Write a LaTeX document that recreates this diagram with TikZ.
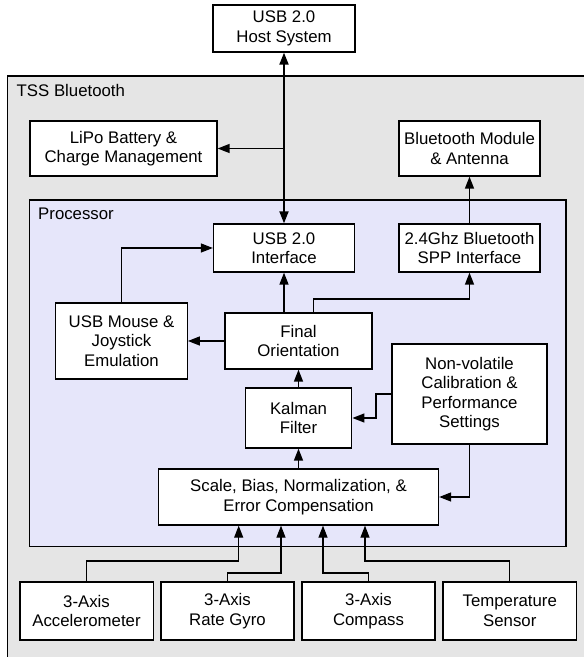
\documentclass[tikz,border=0pt]{standalone}
\usepackage{fontspec}
\setmainfont{Liberation Sans}
\usetikzlibrary{arrows.meta,calc}
\definecolor{outerfill}{RGB}{229,229,229}
\definecolor{procfill}{RGB}{230,230,250}
\begin{document}
\begin{tikzpicture}[x=1pt,y=1pt,
  box/.style={draw=black,line width=1.3pt,fill=white,align=center,inner sep=0pt,
    font=\fontsize{16.8}{19.4}\selectfont},
  conn/.style={line width=1.4pt,-{Triangle[length=12pt,width=9pt]}},
  thinconn/.style={line width=1.2pt,-{Triangle[length=12pt,width=9pt]}},
  lbl/.style={anchor=west,inner sep=0pt,font=\fontsize{16.8}{19.4}\selectfont}]
\useasboundingbox (0,0) rectangle (584,657);
\begin{scope}
\clip (0,0) rectangle (584,657);
\draw[line width=1.3pt,fill=outerfill] (7.4,-10) rectangle (600,581);
\end{scope}
\node[lbl] (tss) at (16.5,567) {TSS Bluetooth};
\draw[line width=1.3pt,fill=procfill] (29.4,110.4) rectangle (566,457);
\node[lbl] (proc) at (38,443) {Processor};

\node[box,minimum width=142pt,minimum height=47pt] (host) at (284,628.5) {USB 2.0\\Host System};
\node[box,minimum width=187pt,minimum height=55pt] (lipo) at (123.5,508.5) {LiPo Battery \&\\Charge Management};
\node[box,minimum width=141pt,minimum height=55pt] (btm) at (469.5,508.5) {Bluetooth Module\\\& Antenna};
\node[box,minimum width=141pt,minimum height=48pt] (usbi) at (284,409) {USB 2.0\\Interface};
\node[box,minimum width=141pt,minimum height=48pt] (spp) at (469.5,409) {2.4Ghz Bluetooth\\SPP Interface};
\node[box,minimum width=131.5pt,minimum height=76pt] (mouse) at (121.5,316) {USB Mouse \&\\Joystick\\Emulation};
\node[box,minimum width=147pt,minimum height=56pt] (final) at (298.5,316) {Final\\Orientation};
\node[box,minimum width=106.6pt,minimum height=60pt] (kalman) at (298.5,239) {Kalman\\Filter};
\node[box,minimum width=155pt,minimum height=100pt] (nv) at (469.5,263) {Non-volatile\\Calibration \&\\Performance\\Settings};
\node[box,minimum width=280pt,minimum height=56pt] (scale) at (298.5,160) {Scale, Bias, Normalization, \&\\Error Compensation};
\node[box,minimum width=133.3pt,minimum height=58pt] (accel) at (86.5,46) {3-Axis\\Accelerometer};
\node[box,minimum width=133pt,minimum height=58pt] (gyro) at (227.5,46) {3-Axis\\Rate Gyro};
\node[box,minimum width=133pt,minimum height=58pt] (compass) at (368.5,46) {3-Axis\\Compass};
\node[box,minimum width=133.5pt,minimum height=58pt] (temp) at (509.75,46) {Temperature\\Sensor};

% host <-> usb interface
\draw[line width=1.8pt,{Triangle[length=12pt,width=9pt]}-{Triangle[length=12pt,width=9pt]}] (host.south) -- (usbi.north);
\draw[conn] (host.south |- lipo.east) -- (lipo.east);
\draw[conn] (spp.north) -- (btm.south);
\draw[conn] (mouse.north) |- (usbi.west);
\draw[conn] (final.north -| usbi.south) -- (usbi.south);
\coordinate (fs) at (313.5,358);
\draw[conn] ([xshift=15pt]final.north) -- (fs) -| (spp.south);
\draw[conn] (final.west) -- (mouse.east);
\draw[conn] (kalman.north) -- (final.south);
\draw[conn] (scale.north) -- (kalman.south);
\coordinate (nk) at (376,263);
\draw[conn] (nv.west) -- (nk) |- (kalman.east);
\draw[conn] (nv.south) |- (scale.east);

\coordinate (a1) at (238.7,96);
\coordinate (g1) at (281,84);
\coordinate (c1) at (323,84);
\coordinate (t1) at (365,96);
\draw[thinconn] (accel.north) |- (a1) -- (a1 |- scale.south);
\draw[thinconn] (gyro.north) |- (g1) -- (g1 |- scale.south);
\draw[thinconn] (compass.north) |- (c1) -- (c1 |- scale.south);
\draw[thinconn] (temp.north) |- (t1) -- (t1 |- scale.south);
\end{tikzpicture}
\end{document}
